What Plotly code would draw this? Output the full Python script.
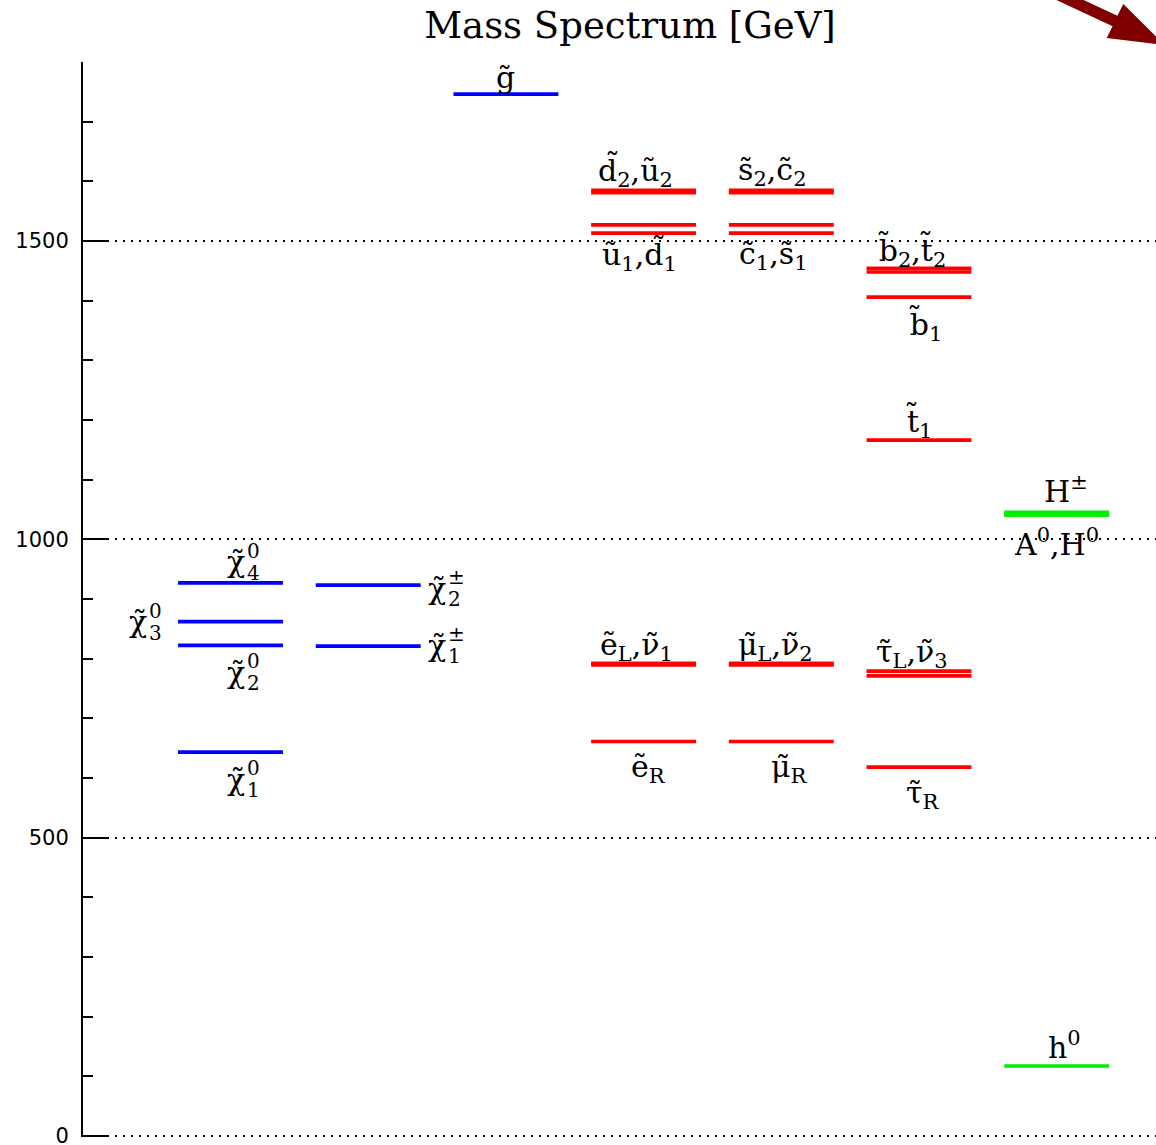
import plotly.graph_objects as go

# ---- spectrum data (GeV) -------------------------------------------------
# column index for each family of states
col_neutralino, col_chargino, col_gluino = 0, 1, 2
col_gen1, col_gen2, col_gen3, col_higgs = 3, 4, 5, 6

neutralino_mass = [643, 822, 862, 927]          # χ̃1..χ̃4
chargino_mass = [821, 923]                      # χ̃1±, χ̃2±
gluino_mass = [1746]                            # g̃
gen1_squark_mass = [1585, 1581, 1527, 1513]     # d̃2, ũ2, ũ1, d̃1
gen2_squark_mass = [1585, 1581, 1527, 1513]     # s̃2, c̃2, c̃1, s̃1
gen3_squark_mass = [1448, 1454, 1406, 1166]     # b̃2, t̃2, b̃1, t̃1
gen1_slepton_mass = [792, 789.5, 661]           # ẽL, ν̃1, ẽR
gen2_slepton_mass = [792, 789.5, 661]           # μ̃L, ν̃2, μ̃R
gen3_slepton_mass = [779, 771, 618]             # τ̃L, ν̃3, τ̃R
higgs_mass = [117, 1041, 1041, 1045]            # h0, A0, H0, H±

y_ticks = [0, 500, 1000, 1500]
y_min, y_max = -2, 1800

BLUE, RED, GREEN = "#0000ff", "#ff0000", "#00ee00"
HALF = 0.381  # half length of a level bar, in column units

levels = [
    (col_neutralino, neutralino_mass, BLUE),
    (col_chargino, chargino_mass, BLUE),
    (col_gluino, gluino_mass, BLUE),
    (col_gen1, gen1_squark_mass, RED),
    (col_gen2, gen2_squark_mass, RED),
    (col_gen3, gen3_squark_mass, RED),
    (col_gen1, gen1_slepton_mass, RED),
    (col_gen2, gen2_slepton_mass, RED),
    (col_gen3, gen3_slepton_mass, RED),
    (col_higgs, higgs_mass, GREEN),
]

fig = go.Figure()
for colour in (BLUE, RED, GREEN):
    xs, ys = [], []
    for col, masses, c in levels:
        if c != colour:
            continue
        for m in masses:
            xs += [col - HALF, col + HALF, None]
            ys += [m, m, None]
    fig.add_trace(go.Scatter(x=xs, y=ys, mode="lines",
                             line=dict(color=colour, width=3.7),
                             hoverinfo="skip", showlegend=False))

# ---- labels ---------------------------------------------------------------
SERIF = "DejaVu Serif"
LBL = 30

# (text, column, mass, x shift px, y shift px)
labels = [
    ("g̃", col_gluino, gluino_mass[0], 0, 17),
    ("d̃<sub>2</sub>,ũ<sub>2</sub>", col_gen1, gen1_squark_mass[0], -8, 19),
    ("ũ<sub>1</sub>,d̃<sub>1</sub>", col_gen1, gen1_squark_mass[3], -4, -22),
    ("s̃<sub>2</sub>,c̃<sub>2</sub>", col_gen2, gen2_squark_mass[0], -9, 19),
    ("c̃<sub>1</sub>,s̃<sub>1</sub>", col_gen2, gen2_squark_mass[3], -8, -22),
    ("b̃<sub>2</sub>,t̃<sub>2</sub>", col_gen3, gen3_squark_mass[0], -7, 20),
    ("b̃<sub>1</sub>", col_gen3, gen3_squark_mass[2], 6, -28),
    ("t̃<sub>1</sub>", col_gen3, gen3_squark_mass[3], 0, 18),
    ("ẽ<sub>L</sub>,ν̃<sub>1</sub>", col_gen1, gen1_slepton_mass[0], -7, 17),
    ("ẽ<sub>R</sub>", col_gen1, gen1_slepton_mass[2], 5, -27),
    ("μ̃<sub>L</sub>,ν̃<sub>2</sub>", col_gen2, gen2_slepton_mass[0], -6, 17),
    ("μ̃<sub>R</sub>", col_gen2, gen2_slepton_mass[2], 8, -27),
    ("τ̃<sub>L</sub>,ν̃<sub>3</sub>", col_gen3, gen3_slepton_mass[0], -7, 18),
    ("τ̃<sub>R</sub>", col_gen3, gen3_slepton_mass[2], 4, -27),
    ("H<sup>±</sup>", col_higgs, higgs_mass[3], 9, 23),
    ("A<sup>0</sup>,H<sup>0</sup>", col_higgs, higgs_mass[1], 0, -28),
    ("h<sup>0</sup>", col_higgs, higgs_mass[0], 8, 21),
]

annotations = []
for text, col, m, dx, dy in labels:
    annotations.append(dict(x=col, y=m, xref="x", yref="y", text=text,
                            showarrow=False, xanchor="center", yanchor="middle",
                            xshift=dx, yshift=dy,
                            font=dict(family=SERIF, size=LBL, color="black")))

# gaugino labels with stacked super/subscripts:
# (column, mass, anchor x offset in columns, x shift px, y shift px, sup, sub)
gauginos = [
    (col_neutralino, neutralino_mass[3], 0, 15, 21, "0", "4"),
    (col_neutralino, neutralino_mass[2], -HALF, -30, 0, "0", "3"),
    (col_neutralino, neutralino_mass[1], 0, 15, -27, "0", "2"),
    (col_neutralino, neutralino_mass[0], 0, 15, -27, "0", "1"),
    (col_chargino, chargino_mass[1], HALF, 26, -3, "±", "2"),
    (col_chargino, chargino_mass[0], HALF, 26, 1, "±", "1"),
]
for col, m, off, dx, dy, sup, sub in gauginos:
    base = dict(x=col + off, y=m, xref="x", yref="y", showarrow=False,
                yanchor="middle")
    annotations.append(dict(base, text="χ̃", xanchor="right", xshift=dx + 1,
                            yshift=dy, font=dict(family=SERIF, size=LBL, color="black")))
    annotations.append(dict(base, text=sup, xanchor="left", xshift=dx - 1,
                            yshift=dy + 11, font=dict(family=SERIF, size=20, color="black")))
    annotations.append(dict(base, text=sub, xanchor="left", xshift=dx - 1,
                            yshift=dy - 11, font=dict(family=SERIF, size=20, color="black")))

# ---- layout ---------------------------------------------------------------
W, H = 1156, 1145
ML, MR, MT, MB = 83, 0, 62, 8


def to_paper(px, py):
    return ((px - ML) / (W - ML - MR), (H - MB - py) / (H - MT - MB))


# decorative arrow in the top-right corner
arrow_px = [(957.7, -46.0), (1112.6, 26.2), (1106.7, 38.1), (1164.5, 45),
            (1123.3, 3.9), (1117.4, 15.8), (962.5, -56.5)]
pts = [to_paper(px, py) for px, py in arrow_px]
arrow_path = "M" + " L".join(f"{x:.5f},{y:.5f}" for x, y in pts) + " Z"

fig.update_layout(
    width=W, height=H,
    margin=dict(l=ML, r=MR, t=MT, b=MB, pad=0, autoexpand=False),
    paper_bgcolor="white", plot_bgcolor="white",
    title=dict(text="Mass Spectrum [GeV]", x=630 / W, xanchor="center",
               y=1 - 25 / H, yanchor="middle", xref="container", yref="container",
               automargin=False,
               font=dict(family=SERIF, size=37, color="black")),
    annotations=annotations,
    shapes=[dict(type="path", path=arrow_path, xref="paper", yref="paper",
                 fillcolor="#800000", line=dict(width=0), layer="above")],
    xaxis=dict(range=[(ML - 230.5) / 137.7, (W - 230.5) / 137.7], visible=False,
               fixedrange=True, automargin=False),
    yaxis=dict(range=[y_min, y_max], tickvals=y_ticks, ticktext=[str(v) for v in y_ticks],
               showline=True, linecolor="black", linewidth=2,
               ticks="inside", ticklen=26, tickwidth=2, tickcolor="black",
               minor=dict(dtick=100, tick0=0, ticks="inside", ticklen=10, tickwidth=1.5,
                          tickcolor="black", showgrid=False),
               showgrid=True, gridcolor="black", gridwidth=1.5, griddash="2px,6px",
               zeroline=False, ticklabelstandoff=8, ticklabeloverflow="allow",
               automargin=False,
               tickfont=dict(family="DejaVu Sans", size=21, color="black"),
               fixedrange=True),
)

fig.write_html("out.html")
